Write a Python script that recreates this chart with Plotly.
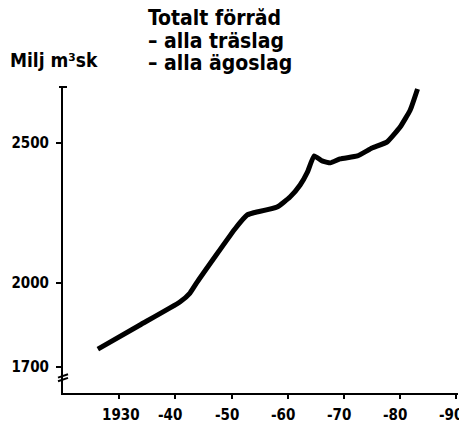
import plotly.graph_objects as go

years = [1926.2, 1933.7, 1940.8, 1942.6, 1943.9, 1950.6, 1952.8, 1953.8, 1958.1, 1960.4,
         1962.2, 1963.5, 1964.7, 1966.1, 1967.6, 1969.3, 1972.4, 1975.0, 1977.7, 1980.0,
         1981.8, 1983.1]
volume = [1764, 1850, 1932, 1964, 2004, 2193, 2243, 2250, 2271, 2307,
          2350, 2396, 2454, 2436, 2429, 2443, 2454, 2482, 2504, 2557,
          2618, 2693]

x_ticks = [1930, 1940, 1950, 1960, 1970, 1980, 1990]
x_labels = ["1930", "-40", "-50", "-60", "-70", "-80", "-90"]
y_ticks = [1700, 2000, 2500]
y_labels = ["1700", "2000", "2500"]
title_lines = ["Totalt förråd", "– alla träslag", "– alla ägoslag"]
y_title = "Milj m³sk"

FONT = "DejaVu Sans Condensed, DejaVu Sans"

# page offset of the plot div (browser body margin)
OFF = 8
# plot area in target-picture pixels
X0, X1 = 1920, 1990.3
L, T, B = 63, 87, 393
R = L + (456 - 63) / 70 * (X1 - X0)
W, H = 467 - OFF, 427 - OFF

def px(xp):
    return (xp - L) / (R - L)

def py(yp):
    return (B - yp) / (B - T)

fig = go.Figure()
fig.add_trace(go.Scatter(x=years, y=volume, mode="lines",
                         line=dict(color="black", width=5, shape="spline", smoothing=0.4),
                         showlegend=False, hoverinfo="skip", cliponaxis=False))

fig.update_layout(
    width=W, height=H,
    margin=dict(l=L - OFF, r=467 - R, t=T - OFF, b=427 - B, autoexpand=False),
    paper_bgcolor="white", plot_bgcolor="white",
    font=dict(family=FONT, color="black", size=13),
    xaxis=dict(range=[X0, X1], tickvals=x_ticks, showticklabels=False, automargin=False,
               showgrid=False, zeroline=False, showline=True, linecolor="black", linewidth=2,
               ticks="outside", ticklen=4, tickwidth=2, tickcolor="black"),
    yaxis=dict(range=[1607, 2700], tickvals=y_ticks, ticktext=y_labels, automargin=False,
               showgrid=False, zeroline=False, showline=True, linecolor="black", linewidth=2,
               ticks="outside", ticklen=5, tickwidth=2, tickcolor="black",
               tickfont=dict(family=FONT, size=15, weight="bold"), ticklabelstandoff=4),
)

# x tick labels, placed at the tick values (slightly left, like the hand lettering)
for xv, lab in zip(x_ticks, x_labels):
    fig.add_annotation(xref="x", yref="paper", x=xv, y=py(415), xanchor="center", yanchor="middle",
                       xshift=-5 if lab.startswith("-") else 2, showarrow=False,
                       text="<b>" + lab + "</b>", font=dict(family=FONT, size=15, color="black"))

# axis break marks
for yb in (1655, 1668):
    fig.add_shape(type="line", xref="paper", yref="y", x0=px(L - 5), x1=px(L + 5),
                  y0=yb - 6, y1=yb + 6, line=dict(color="black", width=2))
# cap on the top of y axis
fig.add_shape(type="line", xref="paper", yref="paper", x0=px(L - 4), x1=px(L + 4),
              y0=1, y1=1, line=dict(color="black", width=2))

for i, line in enumerate(title_lines):
    fig.add_annotation(xref="paper", yref="paper", x=px(146), y=py(18 + 22.5 * i),
                       xanchor="left", yanchor="middle", align="left", showarrow=False,
                       text="<b>" + line + "</b>",
                       font=dict(family=FONT, size=21, color="black"))
fig.add_annotation(xref="paper", yref="paper", x=px(8), y=py(60), xanchor="left", yanchor="middle",
                   showarrow=False, text="<b>" + y_title + "</b>",
                   font=dict(family=FONT, size=19, color="black"))

fig.write_html("out.html")
